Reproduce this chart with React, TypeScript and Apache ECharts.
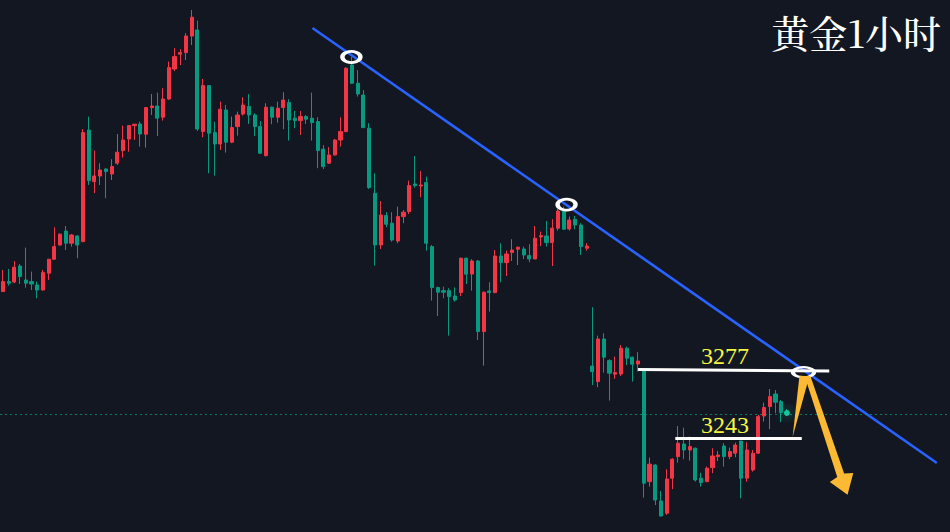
import React, { useEffect, useRef } from "react";
import * as echarts from "echarts";

// ---- data (hourly gold candles) ----
const SLOT_COUNT = 166; // visible hourly slots (incl. empty space on the right)
const slots: string[] = Array.from({ length: SLOT_COUNT }, (_, i) => `H${i}`);

const opens = [
  3316.2, 3321.2, 3321, 3329, 3322, 3321.2, 3319.5, 3317, 3325.4, 3332.4,
  3339.5, 3346.5, 3340.4, 3344, 3341.2, 3397, 3371.2, 3374, 3377.5, 3375,
  3380.4, 3386.7, 3392.5, 3399.2, 3400, 3394.9, 3408.2, 3409, 3403.4, 3412.5,
  3427.5, 3434.9, 3435.7, 3444, 3447, 3396.2, 3419.2, 3395.7, 3390, 3407,
  3390.9, 3398.7, 3405, 3408.7, 3404.5, 3398.7, 3384.2, 3408.4, 3403.4, 3408.2,
  3410.7, 3402.9, 3401.7, 3403.7, 3402.9, 3401.2, 3387.4, 3380.4, 3384.5, 3392,
  3396.2, 3429.5, 3420.4, 3414.5, 3397.9, 3365.4, 3339.5, 3354.2, 3350.4, 3341.5,
  3353.7, 3356.2, 3370, 3369, 3370.7, 3338.7, 3318.2, 3316.7, 3316.7, 3314,
  3315.7, 3332.9, 3325, 3331.5, 3296.2, 3316.5, 3315.7, 3334, 3330.7, 3335.7,
  3337.4, 3337.5, 3334.2, 3332.5, 3343.5, 3344, 3340.7, 3347.9, 3356.7, 3347.5,
  3352.4, 3349.5, 3337.9, 3279, 3271.2, 3292.5, 3281.7, 3274.9, 3275, 3287.9,
  3283.4, 3280, 3277, 3221.2, 3229.5, 3211.5, 3205.4, 3222.9, 3233.7, 3240,
  3237, 3237.9, 3222.9, 3221.2, 3228.2, 3233.7, 3239, 3233.7, 3235.4, 3241.5,
  3222.9, 3227, 3235.4, 3254, 3258.7, 3265, 3261.2, 3256.5,
];
const closes = [
  3321.2, 3320.4, 3328.4, 3323.7, 3320.4, 3320, 3317, 3325.7, 3332.4, 3338.7,
  3344.9, 3340.4, 3344.5, 3339.5, 3395.7, 3371.7, 3374, 3377, 3376.2, 3378.7,
  3385.9, 3392, 3399.2, 3399.9, 3395, 3408.2, 3409, 3402.9, 3412.5, 3428.2,
  3433.7, 3435.7, 3444, 3453.4, 3397.5, 3419.2, 3395.4, 3390, 3407.4, 3390.9,
  3398.2, 3404.5, 3409.5, 3404.5, 3398.7, 3385.4, 3408.4, 3403.4, 3407.9, 3412,
  3402, 3401.7, 3403.7, 3402.4, 3400.7, 3386.7, 3378.7, 3384.5, 3392, 3396.2,
  3427.9, 3420.4, 3415, 3398.2, 3368.2, 3339.5, 3354.5, 3349.9, 3342, 3353.7,
  3355.9, 3369.2, 3369.2, 3369.5, 3340.4, 3318.2, 3315.9, 3315.9, 3313.7, 3312,
  3332.9, 3324.9, 3331.5, 3296.2, 3315.9, 3315.7, 3334, 3330.7, 3335, 3337,
  3338.4, 3334.5, 3332.5, 3342.9, 3344.2, 3340.7, 3347.9, 3356.5, 3347.4, 3352,
  3349.5, 3338.7, 3339, 3276.2, 3292.5, 3283.4, 3275.4, 3275.7, 3287.9, 3282.9,
  3279.9, 3281.5, 3220.4, 3229.9, 3212, 3204, 3222.5, 3232.4, 3240.4, 3237,
  3238.7, 3222, 3220.7, 3227.9, 3234, 3234.5, 3233.7, 3236.2, 3239.5, 3222.9,
  3237, 3235.4, 3253.7, 3258.2, 3263.7, 3260.9, 3255.7, 3255,
];
const lows = [
  3316, 3319.2, 3320.4, 3320, 3318.2, 3317, 3312.9, 3316.7, 3322, 3332,
  3339.2, 3337, 3338.7, 3332.9, 3340.9, 3369.5, 3365.4, 3369.5, 3362.9, 3372,
  3379.5, 3383.2, 3386.2, 3392, 3388.7, 3388.2, 3404.5, 3394, 3401.7, 3412,
  3426.5, 3429.5, 3432, 3439.5, 3396.5, 3393.4, 3375.4, 3374.2, 3387, 3385.7,
  3390.4, 3394.2, 3404.2, 3400, 3394, 3385, 3383.7, 3399.9, 3400.7, 3397.4,
  3391.7, 3397.9, 3394.5, 3400, 3391.7, 3377.9, 3377.5, 3380, 3384.2, 3388.7,
  3395.9, 3420, 3413.7, 3397.9, 3367.5, 3329.2, 3337.5, 3348.4, 3341.2, 3340.4,
  3350.4, 3355, 3368.2, 3363.4, 3336.7, 3311.7, 3304, 3312.9, 3294.2, 3311.2,
  3314, 3320, 3316.7, 3292, 3279.2, 3306.2, 3315.4, 3320.9, 3324, 3331.5,
  3329.5, 3332.5, 3330.9, 3332.4, 3339, 3338.7, 3329, 3346.7, 3347, 3346.7,
  3347.4, 3334.5, 3336.7, 3269.5, 3268.4, 3275.7, 3261.7, 3272.5, 3274, 3279.5,
  3271.2, 3276.2, 3213.2, 3218.7, 3209.5, 3203.8, 3204.5, 3217.4, 3230.7, 3232.4,
  3231.7, 3221.2, 3218.7, 3220.9, 3225.4, 3231.5, 3228.7, 3232.4, 3233.4, 3212.9,
  3221.2, 3226.2, 3235, 3251.2, 3247.4, 3255.4, 3250.9, 3254,
];
const highs = [
  3327, 3327.5, 3331.5, 3330, 3338.2, 3326.2, 3321.2, 3327, 3332.4, 3348.4,
  3345.4, 3349, 3345, 3344.5, 3397.5, 3403.7, 3386.7, 3380.4, 3377.9, 3382.4,
  3395, 3399.2, 3399.5, 3399.9, 3401.2, 3408.2, 3415, 3415.7, 3417.9, 3431.2,
  3437.9, 3437.4, 3445.4, 3457, 3451.7, 3422.5, 3419.5, 3401.2, 3411.2, 3409.5,
  3403.7, 3406.2, 3413.4, 3414.9, 3405.4, 3401.5, 3410.4, 3408.7, 3411.2, 3415.9,
  3412.4, 3406.5, 3406.5, 3404.5, 3415.7, 3403.4, 3389.5, 3388.4, 3392.5, 3403.4,
  3428.4, 3433.5, 3427, 3417, 3400.4, 3375.4, 3361.5, 3355.9, 3355.9, 3358.7,
  3357, 3371.7, 3384, 3376.5, 3373.7, 3339.5, 3318.7, 3318.7, 3317.9, 3318.3,
  3333.2, 3333.2, 3332.4, 3332, 3316.2, 3320.9, 3337, 3340.4, 3336.7, 3342.4,
  3338.7, 3338.7, 3339.9, 3349, 3346.2, 3351.5, 3352.4, 3357.5, 3358.7, 3353.7,
  3354, 3350.4, 3340.4, 3308.4, 3294.2, 3295.4, 3282.4, 3283.7, 3289.5, 3288.7,
  3283.7, 3285.9, 3277, 3233.2, 3229.9, 3216.5, 3227.4, 3232.9, 3249, 3248.2,
  3243.7, 3238.2, 3225.7, 3228.7, 3237.9, 3236.5, 3240.4, 3238.2, 3240.7, 3241.5,
  3240.9, 3237, 3254.5, 3260.7, 3267.5, 3267, 3262, 3257.5,
];

const priceMin = 3196;
const priceMax = 3462;
const currentPrice = 3255;

// annotations in (slot, price) space
const trendLine = [[54.1, 3448], [163.2, 3230.5]];
const touchPoints = [[60.9, 3433.5], [98.5, 3359.7]];
const breakPoint = [[139.9, 3275.9]];
const resistanceLine = [[111.0, 3277.3], [144.4, 3276.5]];
const supportLine = [[117.5, 3242.8], [139.6, 3242.8]];
const resistanceLabel = { text: "3277", at: [126.2, 3284] };
const supportLabel = { text: "3243", at: [126.2, 3249.5] };
const upSpike = [[138.0, 3243.5], [139.2, 3274.3], [140.9, 3273.6]];
const downArrow = [
  [140.1, 3274], [141.1, 3274], [147.0, 3225.3], [148.6, 3225.5],
  [147.6, 3214.6], [144.5, 3221.0], [145.8, 3223.5],
];
const titleText = "黄金1小时";

const UP = "#f23645";
const DOWN = "#089981";
const BG = "#131722";
const ARROW = "#fbb934";

export default function App() {
  const ref = useRef<HTMLDivElement>(null);
  useEffect(() => {
    document.body.style.margin = "0";
    const el = ref.current!;
    const chart = echarts.init(el, null, { renderer: "svg" });
    const candles = opens.map((o, i) => [o, closes[i], lows[i], highs[i]]);
    chart.setOption({
      animation: false,
      backgroundColor: BG,
      grid: { left: -1, right: -3, top: 0, bottom: 0, containLabel: false },
      xAxis: [
        { type: "category", data: slots, boundaryGap: true, show: false },
        { type: "value", min: -0.5, max: SLOT_COUNT - 0.5, show: false },
      ],
      yAxis: { type: "value", min: priceMin, max: priceMax, show: false, splitLine: { show: false } },
      series: [
        {
          type: "candlestick",
          xAxisIndex: 0,
          data: candles,
          barWidth: 3.6,
          itemStyle: { color: UP, color0: DOWN, borderColor: UP, borderColor0: DOWN, borderWidth: 1 },
          markLine: {
            silent: true,
            symbol: "none",
            label: { show: false },
            lineStyle: { color: DOWN, type: [2, 3], width: 1, opacity: 0.75 },
            data: [{ yAxis: currentPrice }],
          },
          z: 2,
        },
        {
          id: "trend",
          type: "line",
          xAxisIndex: 1,
          data: trendLine,
          symbol: "none",
          lineStyle: { color: "#2962ff", width: 2.6 },
          z: 3,
        },
        {
          type: "line",
          xAxisIndex: 1,
          data: resistanceLine,
          symbol: "none",
          lineStyle: { color: "#ffffff", width: 3 },
          z: 4,
        },
        {
          type: "line",
          xAxisIndex: 1,
          data: supportLine,
          symbol: "none",
          lineStyle: { color: "#ffffff", width: 3 },
          z: 4,
        },
        {
          type: "scatter",
          xAxisIndex: 1,
          data: touchPoints,
          symbol: "circle",
          symbolSize: [18, 11],
          itemStyle: { color: "rgba(0,0,0,0)", borderColor: "#ffffff", borderWidth: 3.5, opacity: 1 },
          z: 5,
        },
        {
          type: "scatter",
          xAxisIndex: 1,
          data: breakPoint,
          symbol: "circle",
          symbolSize: [21, 10],
          itemStyle: { color: "rgba(0,0,0,0)", borderColor: "#ffffff", borderWidth: 3, opacity: 1 },
          z: 5,
        },
        {
          type: "scatter",
          xAxisIndex: 1,
          data: [[opens.length - 1, currentPrice + 0.5]],
          symbolSize: 6,
          itemStyle: { color: "#12c79a", shadowBlur: 12, shadowColor: "#12c79a", opacity: 1 },
          z: 5,
        },
      ],
    });

    const toPx = (p: number[]) =>
      chart.convertToPixel({ xAxisIndex: 1, yAxisIndex: 0 }, p) as number[];

    const labelStyle = {
      fill: "#f5f542",
      fontSize: 24,
      fontFamily: "'Liberation Serif', 'DejaVu Serif', serif",
      align: "center",
      verticalAlign: "middle",
    };
    const rp = toPx(resistanceLabel.at);
    const sp = toPx(supportLabel.at);
    chart.setOption({
      graphic: [
        {
          type: "text",
          right: 9,
          top: 12,
          style: {
            text: titleText,
            fill: "#ffffff",
            fontSize: 38,
            fontWeight: 500,
            fontFamily: "'Noto Serif CJK SC', 'Noto Sans CJK SC', serif",
          },
          z: 10,
        },
        { type: "text", x: rp[0], y: rp[1], style: { ...labelStyle, text: resistanceLabel.text }, z: 10 },
        { type: "text", x: sp[0], y: sp[1], style: { ...labelStyle, text: supportLabel.text }, z: 10 },
        { type: "polygon", shape: { points: upSpike.map(toPx) }, style: { fill: ARROW }, z: 10 },
        { type: "polygon", shape: { points: downArrow.map(toPx) }, style: { fill: ARROW }, z: 10 },
      ],
    });
    return () => chart.dispose();
  }, []);
  return (
    <div
      ref={ref}
      style={{ position: "fixed", left: 0, top: 0, width: 950, height: 532 }}
    />
  );
}
